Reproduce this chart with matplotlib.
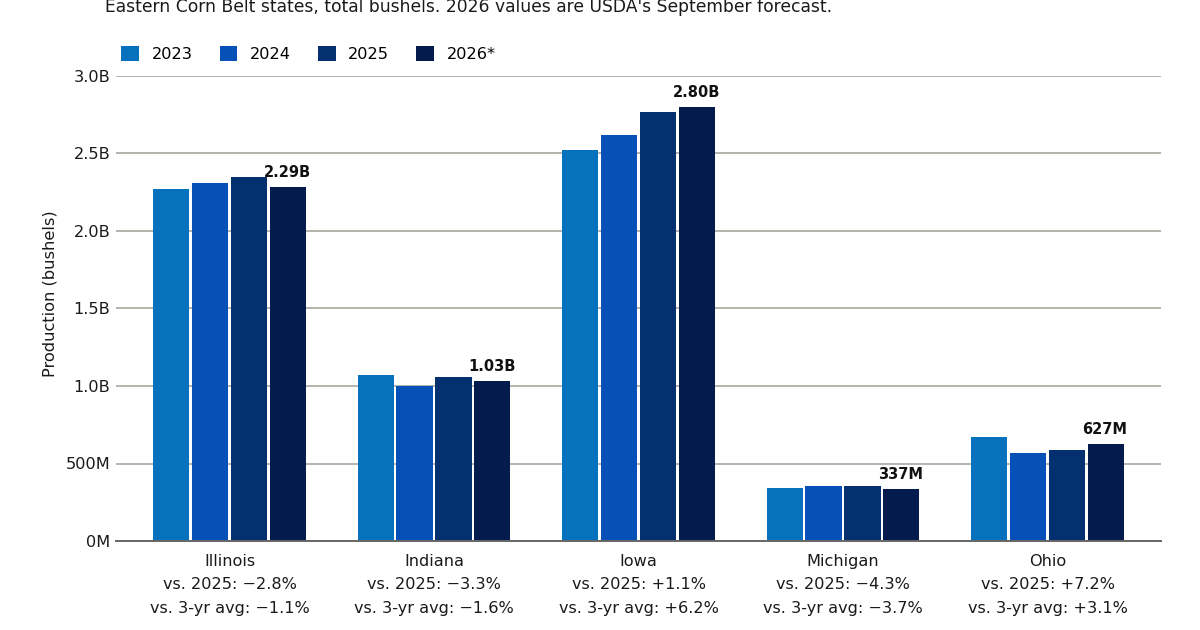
import matplotlib
matplotlib.use("Agg")
import matplotlib.pyplot as plt
import numpy as np
from matplotlib.ticker import FuncFormatter

plt.rcParams["font.family"] = ["DejaVu Sans"]

states = ["Illinois", "Indiana", "Iowa", "Michigan", "Ohio"]
years = ["2023", "2024", "2025", "2026*"]
v2023 = [2.27, 1.07, 2.52, 0.345, 0.67]
v2024 = [2.31, 1.00, 2.62, 0.352, 0.565]
v2025 = [2.35, 1.06, 2.77, 0.352, 0.585]
v2026 = [2.285, 1.03, 2.80, 0.337, 0.627]
bar_labels = ["2.29B", "1.03B", "2.80B", "337M", "627M"]
vs_2025 = ["\u22122.8%", "\u22123.3%", "+1.1%", "\u22124.3%", "+7.2%"]
vs_avg = ["\u22121.1%", "\u22121.6%", "+6.2%", "\u22123.7%", "+3.1%"]
colors = ["#0672bd", "#0650b8", "#05306f", "#031c4d"]

W, H = 1200, 630
fig = plt.figure(figsize=(12, 6.3), dpi=100)
ax = fig.add_axes([116 / W, 1 - 541 / H, (1161 - 116) / W, (541 - 76) / H])
series = [v2023, v2024, v2025, v2026]
x = np.arange(len(states))
step = 0.19
for i, vals in enumerate(series):
    ax.bar(x + (i - 1.5) * step, vals, width=0.177, color=colors[i],
           linewidth=0, zorder=3, label=years[i])

ax.set_xlim(-0.555, 4.555)
ax.set_ylim(0, 3.0)
ax.set_yticks([0, 0.5, 1.0, 1.5, 2.0, 2.5, 3.0])
ax.yaxis.set_major_formatter(FuncFormatter(
    lambda v, p: "0M" if v == 0 else ("500M" if v == 0.5 else f"{v:.1f}B")))
ax.grid(axis="y", color="#b4b4ac", linewidth=1.4, zorder=1)
ax.set_axisbelow(True)
for s in ["top", "right", "left"]:
    ax.spines[s].set_visible(False)
ax.spines["bottom"].set_color("#666666")
ax.spines["bottom"].set_linewidth(1.4)
ax.spines["bottom"].set_zorder(5)
ax.tick_params(axis="y", length=0, labelsize=11.6, pad=4, colors="#1a1a1a")
ax.tick_params(axis="x", length=0, labelsize=11.6, pad=9.5, colors="#1a1a1a")
ax.set_xticks(x)
ax.set_xticklabels([f"{s}\nvs. 2025: {a}\nvs. 3-yr avg: {b}"
                    for s, a, b in zip(states, vs_2025, vs_avg)], linespacing=1.68)
ax.set_ylabel("Production (bushels)", fontsize=11.7, color="#1a1a1a")
ax.yaxis.set_label_coords((58 - 116) / (1161 - 116), (541 - 294) / (541 - 76))

for xi, v, t in zip(x, v2026, bar_labels):
    ax.annotate(t, (xi + 1.5 * step, v), xytext=(-0.5, 5), textcoords="offset points",
                ha="center", va="bottom", fontsize=10.5, fontweight="bold",
                color="#111111", zorder=6)

fig.text(105 / W, 1 - 7 / H, "Eastern Corn Belt states, total bushels. 2026 values are USDA's September forecast.",
         fontsize=12.33, color="#1a1a1a", ha="left", va="center")
ax.legend(loc="lower left", bbox_to_anchor=(-0.005, 1.008), ncol=4, frameon=False,
          fontsize=11.6, handlelength=1.1, handleheight=1.1, handletextpad=0.78,
          columnspacing=1.68, borderaxespad=0.45, borderpad=0.2)
fig.savefig("out.png", dpi=100, facecolor="white")
